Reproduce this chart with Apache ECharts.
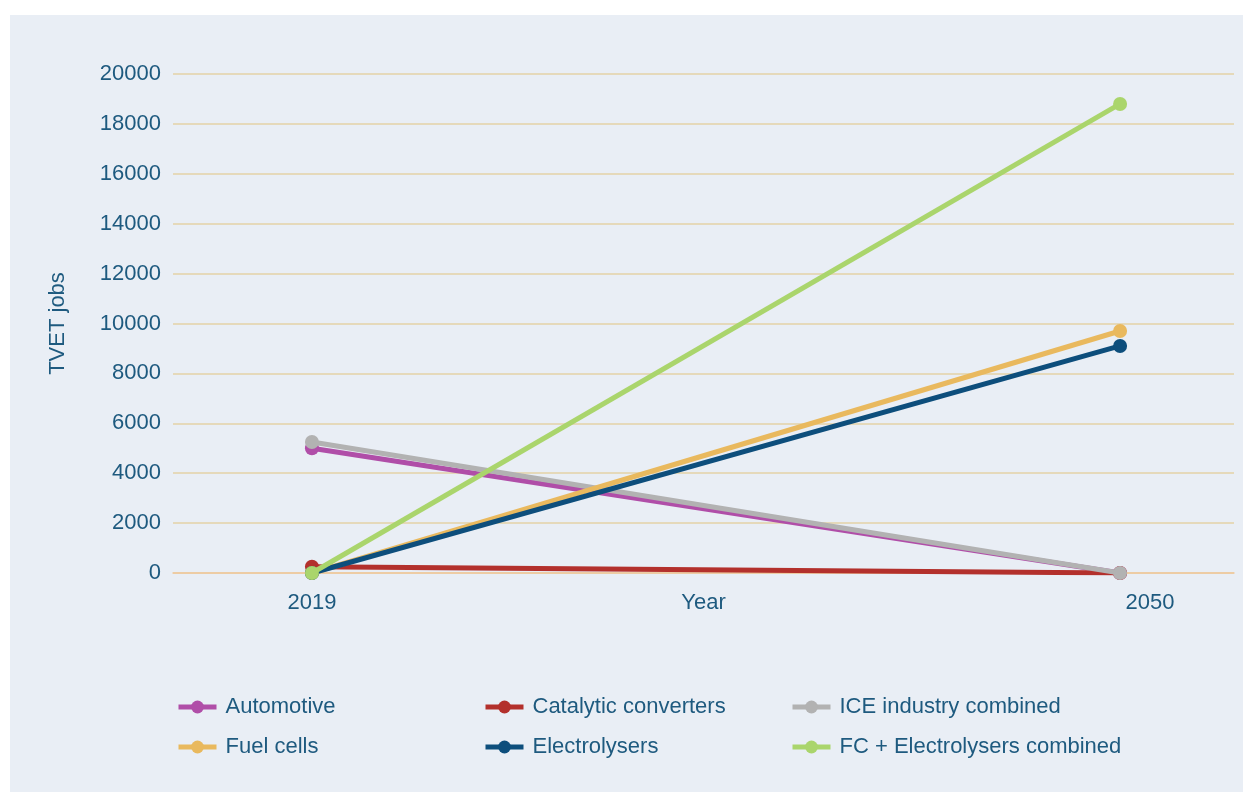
<!DOCTYPE html>
<html>
<head>
<meta charset="utf-8">
<script src="https://cdn.jsdelivr.net/npm/echarts@6/dist/echarts.min.js"></script>
<style>
  html, body { margin: 0; padding: 0; background: #ffffff; }
  #panel { position: absolute; left: 10px; top: 15px; width: 1233px; height: 777px; background: #e9eef5; }
  #chart { position: absolute; left: 0; top: 0; width: 1243px; height: 792px; }
</style>
</head>
<body>
<div id="panel"></div>
<div id="chart"></div>
<script>
// Years on the horizontal axis
const years = [2019, 2050];
// TVET jobs per sector
const automotive = [5000, 0];
const catalyticConverters = [250, 0];
const iceCombined = [5250, 0];
const fuelCells = [0, 9700];
const electrolysers = [0, 9100];
const fcElectrolysersCombined = [0, 18800];

const seriesNames = [
  'Automotive', 'Catalytic converters', 'ICE industry combined',
  'Fuel cells', 'Electrolysers', 'FC + Electrolysers combined'
];
const seriesData = [automotive, catalyticConverters, iceCombined, fuelCells, electrolysers, fcElectrolysersCombined];
const seriesColors = ['#b04ea8', '#b3302c', '#b2b2b2', '#e9b95e', '#0d4e7c', '#aad56c'];

const textColor = '#1e5a7f';
const font = 'Liberation Sans, Arial, sans-serif';

const chart = echarts.init(document.getElementById('chart'));

const series = seriesNames.map((name, i) => ({
  name,
  type: 'line',
  data: years.map((y, k) => [y, seriesData[i][k]]),
  symbol: 'circle',
  symbolSize: 14,
  lineStyle: { width: 5, color: seriesColors[i] },
  itemStyle: { color: seriesColors[i] },
  z: 2 + i
}));

const legendBase = {
  orient: 'vertical',
  top: 691,
  itemWidth: 38,
  itemHeight: 16,
  itemGap: 18,
  lineStyle: { width: 5 },
  textStyle: { color: textColor, fontSize: 22, fontFamily: font, lineHeight: 22, padding: [0, 0, 0, 4] }
};

chart.setOption({
  backgroundColor: 'transparent',
  animation: false,
  grid: { left: 173, right: 9, top: 74, bottom: 219 },
  legend: [
    Object.assign({}, legendBase, { left: 171, data: [seriesNames[0], seriesNames[3]] }),
    Object.assign({}, legendBase, { left: 478, data: [seriesNames[1], seriesNames[4]] }),
    Object.assign({}, legendBase, { left: 785, data: [seriesNames[2], seriesNames[5]] })
  ],
  xAxis: {
    type: 'value',
    min: 2013.67,
    max: 2054.37,
    name: 'Year',
    nameLocation: 'middle',
    nameGap: 19,
    nameMoveOverlap: false,
    nameTextStyle: { color: textColor, fontSize: 22, fontFamily: font, verticalAlign: 'top' },
    axisLine: { show: true, lineStyle: { color: '#f0c79c', width: 1.5 } },
    axisTick: { show: false },
    splitLine: { show: false },
    axisLabel: {
      customValues: years,
      margin: 19,
      color: textColor,
      fontSize: 22,
      fontFamily: font,
      formatter: v => (v === years[years.length - 1] ? '{r|' + v + '}' : '{n|' + v + '}'),
      rich: {
        n: { color: textColor, fontSize: 22, fontFamily: font },
        r: { color: textColor, fontSize: 22, fontFamily: font, padding: [0, 0, 0, 60] }
      }
    }
  },
  yAxis: {
    type: 'value',
    min: 0,
    max: 20000,
    interval: 2000,
    name: 'TVET jobs',
    nameLocation: 'middle',
    nameGap: 104,
    nameMoveOverlap: false,
    nameTextStyle: { color: textColor, fontSize: 22, fontFamily: font },
    axisLine: { show: false },
    axisTick: { show: false },
    axisLabel: { margin: 12, color: textColor, fontSize: 22, fontFamily: font, formatter: v => String(v) },
    splitLine: { lineStyle: { color: '#e3d2a6', width: 1.5 } }
  },
  series
});
</script>
</body>
</html>
